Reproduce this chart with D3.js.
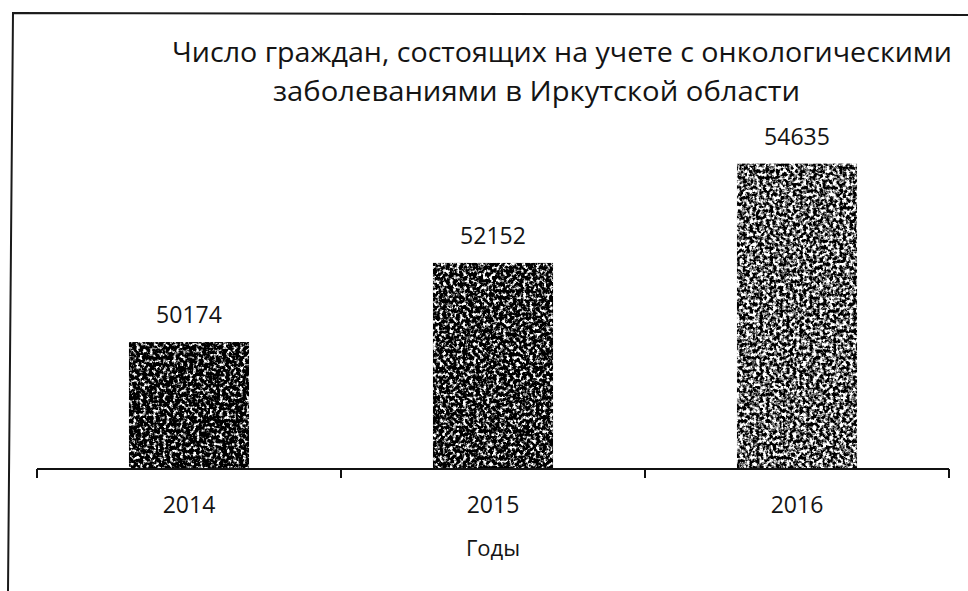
<!DOCTYPE html>
<html>
<head>
<meta charset="utf-8">
<script src="https://cdn.jsdelivr.net/npm/d3@7"></script>
<style>
  html, body { margin: 0; padding: 0; background: #fff; }
  svg { display: block; }
  text { font-family: "Open Sans", "DejaVu Sans", sans-serif; fill: #141414; }
</style>
</head>
<body>
<svg id="chart" width="968" height="591"></svg>
<script>
const categories = ["2014", "2015", "2016"];
const values = [50174, 52152, 54635];
const titleLines = ["Число граждан, состоящих на учете с онкологическими", "заболеваниями в Иркутской области"];
const axisTitle = "Годы";
const yDomain = [47000, 55000];

const svg = d3.select("#chart");
const W = 968, H = 591;
const margin = { left: 37, right: 19, top: 149, bottom: 122 };
const baseY = H - margin.bottom; // 469

const x = d3.scaleBand()
  .domain(categories)
  .range([margin.left, W - margin.right])
  .paddingInner(0.605)
  .paddingOuter(0.3025);

const y = d3.scaleLinear()
  .domain(yDomain)
  .range([baseY, margin.top]);

// frame (scanned page border)
svg.append("path")
  .attr("d", "M8,591 L13,13 L968,15")
  .attr("fill", "none")
  .attr("stroke", "#1a1a1a")
  .attr("stroke-width", 2);

// speckled texture filters
const defs = svg.append("defs");
const tex = [
  { slope: 4.6, intercept: -2.3 },
  { slope: 4.6, intercept: -2.2 },
  { slope: 4.2, intercept: -1.7 }
];
tex.forEach((t, i) => {
  const f = defs.append("filter")
    .attr("id", "speckle" + i)
    .attr("x", 0).attr("y", 0).attr("width", 1).attr("height", 1)
    .attr("color-interpolation-filters", "sRGB");
  f.append("feTurbulence")
    .attr("type", "fractalNoise")
    .attr("baseFrequency", 0.3)
    .attr("numOctaves", 3)
    .attr("seed", 3 + i * 7)
    .attr("result", "noise");
  f.append("feColorMatrix")
    .attr("in", "noise")
    .attr("type", "matrix")
    .attr("values", "1 0 0 0 0  1 0 0 0 0  1 0 0 0 0  0 0 0 0 1")
    .attr("result", "gray");
  const ct = f.append("feComponentTransfer").attr("in", "gray").attr("result", "contrast");
  ["feFuncR", "feFuncG", "feFuncB"].forEach(fn => {
    ct.append(fn).attr("type", "linear").attr("slope", t.slope).attr("intercept", t.intercept);
  });
  f.append("feComposite")
    .attr("in", "contrast")
    .attr("in2", "SourceGraphic")
    .attr("operator", "in");
});

// bars
svg.append("g").selectAll("rect")
  .data(values)
  .join("rect")
  .attr("x", (d, i) => x(categories[i]))
  .attr("y", d => y(d))
  .attr("width", x.bandwidth())
  .attr("height", d => baseY - y(d))
  .attr("fill", "#2a2a2a")
  .attr("filter", (d, i) => `url(#speckle${i})`);

// x axis
const xAxisG = svg.append("g")
  .attr("transform", `translate(0,${baseY})`);
xAxisG.append("line")
  .attr("x1", margin.left).attr("x2", W - margin.right)
  .attr("y1", 0).attr("y2", 0)
  .attr("stroke", "#111").attr("stroke-width", 2);
const tickPositions = [x.range()[0]].concat(categories.map(c => x(c) + x.bandwidth() / 2 + x.step() / 2));
xAxisG.selectAll("line.tick")
  .data(tickPositions)
  .join("line")
  .attr("class", "tick")
  .attr("x1", d => d).attr("x2", d => d)
  .attr("y1", 0).attr("y2", 9)
  .attr("stroke", "#111").attr("stroke-width", 2);
xAxisG.selectAll("text.cat")
  .data(categories)
  .join("text")
  .attr("class", "cat")
  .attr("x", d => x(d) + x.bandwidth() / 2)
  .attr("y", 44)
  .attr("text-anchor", "middle")
  .style("font-size", "23px")
  .text(d => d);

// axis title
svg.append("text")
  .attr("x", x("2015") + x.bandwidth() / 2)
  .attr("y", 556)
  .attr("text-anchor", "middle")
  .style("font-size", "22px")
  .text(axisTitle);

// value labels
svg.append("g").selectAll("text")
  .data(values)
  .join("text")
  .attr("x", (d, i) => x(categories[i]) + x.bandwidth() / 2)
  .attr("y", d => y(d) - 19)
  .attr("text-anchor", "middle")
  .style("font-size", "23px")
  .text(d => d);

// title
const titleSpan = [[172, 952], [273, 800]];
svg.append("g").selectAll("text")
  .data(titleLines)
  .join("text")
  .attr("x", (d, i) => titleSpan[i][0])
  .attr("y", (d, i) => 62 + i * 39)
  .attr("textLength", (d, i) => titleSpan[i][1] - titleSpan[i][0])
  .attr("lengthAdjust", "spacingAndGlyphs")
  .style("font-size", "28px")
  .text(d => d);
</script>
</body>
</html>
